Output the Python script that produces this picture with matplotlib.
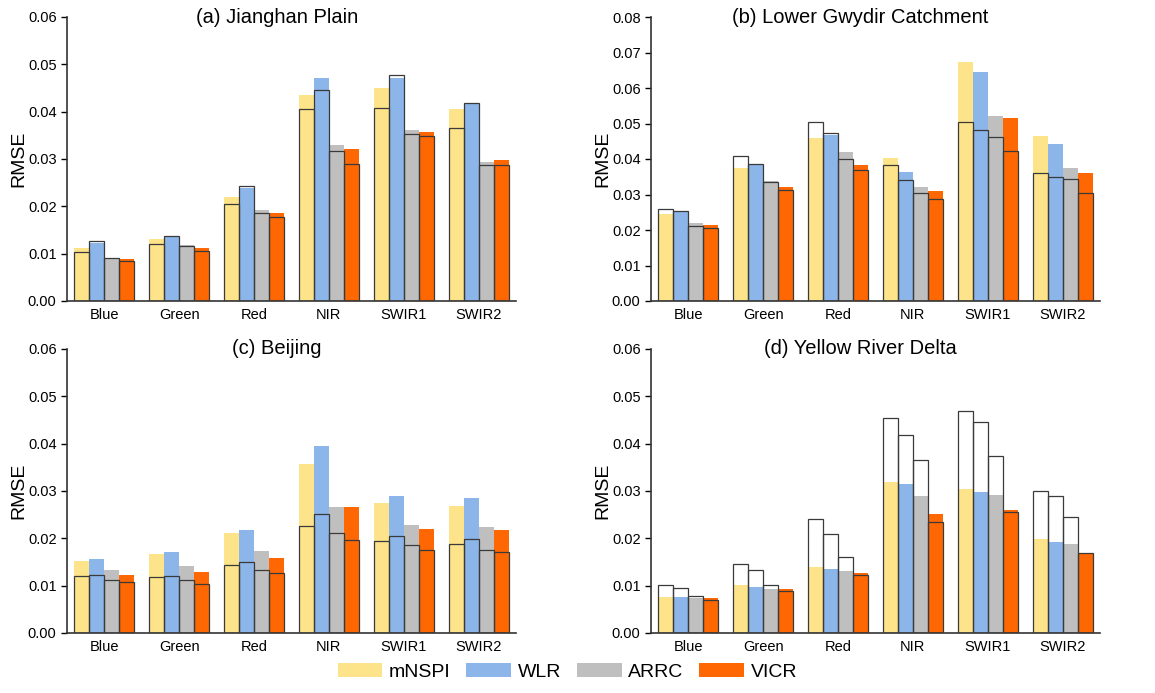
import numpy as np
import matplotlib.pyplot as plt
from matplotlib.patches import Patch

plt.rcParams['font.family'] = ['Liberation Sans', 'DejaVu Sans']

bands = ["Blue", "Green", "Red", "NIR", "SWIR1", "SWIR2"]
methods = ["mNSPI", "WLR", "ARRC", "VICR"]
colors = ["#fde38a", "#8cb5ea", "#bfbfbf", "#fe6701"]

# colored bars (filled) per panel, rows = methods, cols = bands
fill_a = [[0.0111, 0.0130, 0.0220, 0.0436, 0.0450, 0.0406],
          [0.0122, 0.0138, 0.0238, 0.0472, 0.0472, 0.0419],
          [0.0091, 0.0118, 0.0192, 0.0330, 0.0362, 0.0293],
          [0.0088, 0.0111, 0.0185, 0.0322, 0.0358, 0.0298]]
line_a = [[0.0104, 0.0121, 0.0205, 0.0406, 0.0407, 0.0366],
          [0.0127, 0.0138, 0.0243, 0.0446, 0.0477, 0.0418],
          [0.0090, 0.0116, 0.0185, 0.0316, 0.0353, 0.0287],
          [0.0085, 0.0106, 0.0178, 0.0289, 0.0349, 0.0287]]

fill_b = [[0.0245, 0.0375, 0.0458, 0.0403, 0.0674, 0.0465],
          [0.0251, 0.0382, 0.0467, 0.0362, 0.0645, 0.0443],
          [0.0221, 0.0338, 0.0419, 0.0321, 0.0522, 0.0374],
          [0.0214, 0.0320, 0.0382, 0.0310, 0.0516, 0.0361]]
line_b = [[0.0258, 0.0408, 0.0504, 0.0383, 0.0504, 0.0360],
          [0.0253, 0.0385, 0.0473, 0.0340, 0.0482, 0.0350],
          [0.0211, 0.0335, 0.0400, 0.0303, 0.0462, 0.0343],
          [0.0206, 0.0313, 0.0368, 0.0287, 0.0422, 0.0303]]

fill_c = [[0.0152, 0.0166, 0.0212, 0.0356, 0.0274, 0.0268],
          [0.0157, 0.0172, 0.0217, 0.0395, 0.0289, 0.0286],
          [0.0134, 0.0142, 0.0173, 0.0266, 0.0229, 0.0223],
          [0.0123, 0.0128, 0.0158, 0.0266, 0.0219, 0.0217]]
line_c = [[0.0120, 0.0119, 0.0143, 0.0227, 0.0194, 0.0188],
          [0.0123, 0.0121, 0.0150, 0.0251, 0.0204, 0.0198],
          [0.0112, 0.0111, 0.0134, 0.0211, 0.0185, 0.0176],
          [0.0107, 0.0104, 0.0126, 0.0196, 0.0176, 0.0172]]

fill_d = [[0.0076, 0.0101, 0.0140, 0.0318, 0.0305, 0.0198],
          [0.0076, 0.0098, 0.0136, 0.0315, 0.0297, 0.0193],
          [0.0073, 0.0094, 0.0130, 0.0289, 0.0291, 0.0187],
          [0.0074, 0.0092, 0.0126, 0.0251, 0.0259, 0.0169]]
line_d = [[0.0102, 0.0145, 0.0241, 0.0454, 0.0469, 0.0301],
          [0.0096, 0.0133, 0.0210, 0.0418, 0.0445, 0.0290],
          [0.0078, 0.0102, 0.0161, 0.0366, 0.0375, 0.0246],
          [0.0069, 0.0089, 0.0123, 0.0234, 0.0255, 0.0168]]

titles = ["(a) Jianghan Plain", "(b) Lower Gwydir Catchment",
          "(c) Beijing", "(d) Yellow River Delta"]
ymaxes = [0.06, 0.08, 0.06, 0.06]
panels = [(fill_a, line_a), (fill_b, line_b), (fill_c, line_c), (fill_d, line_d)]

fig = plt.figure(figsize=(11.55, 6.93), dpi=100)
W, H = 1155, 693
boxes = [(67, 17, 449, 284), (651, 17, 449, 284),
         (67, 349, 449, 284), (651, 349, 449, 284)]

x = np.arange(len(bands))
bw = 0.2
for k, (fill, line) in enumerate(panels):
    l, t, w, h = boxes[k]
    ax = fig.add_axes([l / W, 1 - (t + h) / H, w / W, h / H])
    for j in range(4):
        pos = x + (j - 1.5) * bw
        ax.bar(pos, fill[j], width=bw, color=colors[j], edgecolor='none', zorder=2)
        ax.bar(pos, line[j], width=bw, facecolor='none', edgecolor='#3a3a3a',
               linewidth=0.9, zorder=3)
    ax.set_xlim(-0.5, 5.5)
    ax.set_ylim(0, ymaxes[k])
    yt = np.arange(0, ymaxes[k] + 1e-9, 0.01)
    ax.set_yticks(yt)
    ax.set_yticklabels([f"{v:.2f}" for v in yt])
    ax.set_xticks(x)
    ax.set_xticklabels(bands)
    ax.tick_params(axis='x', length=0, pad=5, labelsize=10.5)
    ax.tick_params(axis='y', length=4, width=1, labelsize=10.5, direction='out')
    for s in ['top', 'right']:
        ax.spines[s].set_visible(False)
    for s in ['left', 'bottom']:
        ax.spines[s].set_linewidth(1.2)
        ax.spines[s].set_color('#333333')
    ax.set_ylabel("RMSE", fontsize=14, labelpad=0.5)
    ax.text(0.467, 1.0, titles[k], transform=ax.transAxes, ha='center', va='center',
            fontsize=14.5)

handles = [Patch(facecolor=c, edgecolor='none', label=m) for c, m in zip(colors, methods)]
fig.legend(handles=handles, loc='center', bbox_to_anchor=(0.4913, 1 - 672 / H), ncol=4,
           frameon=False, fontsize=14, handlelength=2.3, handleheight=0.75,
           columnspacing=0.8, handletextpad=0.35)

fig.savefig("out.png", dpi=100)
